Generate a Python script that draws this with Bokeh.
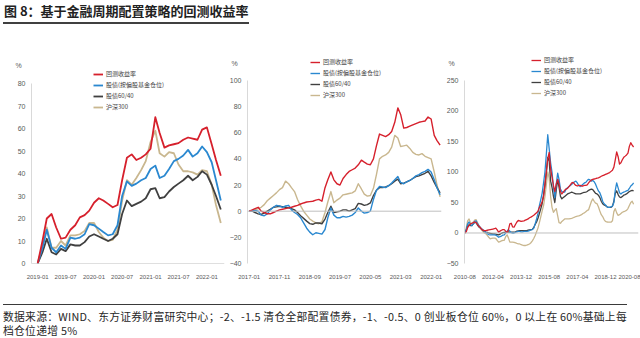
import pandas as pd
from bokeh.plotting import figure
from bokeh.models import (FixedTicker, DatetimeTickFormatter, Span, Legend, LegendItem,
                          LinearAxis, Div, Range1d)
from bokeh.layouts import column, row
from bokeh.embed import file_html
from bokeh.resources import INLINE

TITLE = "图 8：基于金融周期配置策略的回测收益率"
NOTE_1 = "数据来源：WIND、东方证券财富研究中心；-2、-1.5 清仓全部配置债券，-1、-0.5、0 创业板仓位 60%，0 以上在 60%基础上每"
NOTE_2 = "档仓位递增 5%"
SERIES_NAMES = ["回测收益率", "股债(按偏股基金仓位)", "股债60/40", "沪深300"]
COLORS = ["#d6202c", "#2a88d0", "#404040", "#c9b78f"]
UNIT = "%"

# ---------------- Panel 1 : monthly, 2019-01 .. 2022-04 ----------------
p1_start = "2019-01-01"
p1_red = [0, 10, 20, 22, 16, 11, 11.5, 15, 17, 20.5,
          21.5, 23.5, 27, 29, 28, 26.5, 25, 26, 37, 47,
          48.5, 46, 47, 48.5, 51, 65, 58, 51.5, 52.5, 53,
          53.5, 55, 56, 55.5, 55, 59.5, 60.5, 53, 46, 39]
p1_blue = [0, 7, 15, 7, 5, 8, 6.5, 11.5, 11, 11.5,
           13, 17.5, 17, 15.5, 14, 12.5, 13, 17, 30, 36.5,
           34.5, 35.5, 37, 38, 42, 43.5, 38, 39, 42, 45.5,
           46.5, 48, 50.5, 47.5, 49, 52, 49.5, 45, 37, 28]
p1_dark = [0, 5, 11, 5, 4, 6.5, 5.5, 8.5, 8, 8,
           9.5, 12, 13, 12, 11, 10, 11, 13, 22, 28,
           25.5, 26.5, 27.5, 29, 33, 33.5, 29, 29.5, 32, 34,
           35.5, 37, 39, 37, 38.5, 41, 39.5, 35, 30, 24]
p1_tan = [0, 8, 16, 7, 7, 10, 8, 12.5, 12.5, 13,
          14.5, 18, 18, 14, 11.5, 10, 10.5, 15, 28, 37,
          35, 38, 41.5, 45.5, 54, 59, 49, 47.5, 49.5, 49,
          44, 41, 41, 40.5, 39.5, 41.5, 41, 35, 26, 18]
p1_xticks = ["2019-01", "2019-07", "2020-01", "2020-07", "2021-01", "2021-07", "2022-01"]
p1_yticks = [0, 10, 20, 30, 40, 50, 60, 70, 80]
p1_unit_at = 88

# ---------------- Panel 2 : monthly, 2017-01 .. 2022-04 ----------------
p2_start = "2017-01-01"
p2_red = [0, 1, 2, 3, 0, -1, -2, -2, -1, 0,
          1, 1.5, 2, 2.5, 3, 3.8, 4.5, 5.5, 6.3, 7,
          7.3, 7.6, 8.5, 9, 7.6, 18, 24, 30, 24, 21,
          20, 25, 28, 30.4, 31.7, 33, 35.5, 39, 37.5, 36,
          35.5, 40, 50, 59, 58, 57, 58.5, 61, 68, 79,
          74, 63.5, 64, 65, 66, 67, 68, 68.5, 69, 72,
          70.5, 58, 54, 50.5]
p2_blue = [0, 0.5, 0.5, 0, -3, -3.5, -2, 1, 3, 4.5,
           4, 3, 4, 4.5, 1, -1, -2.5, -5, -9, -13,
           -16, -18, -16.5, -17, -17.5, -14, -5, 2.5, -3, -5,
           -5, -4, -4.5, -4, -3, -1, 2.5, 0, -1.5, -1,
           0, 9, 16, 19, 18.5, 18, 19.5, 21.5, 24, 26.5,
           22, 21, 22.5, 23.5, 25, 27, 28, 29.5, 30.5, 32,
           30, 24, 18, 12.5]
p2_dark = [0, 0, -1, -2, -2.5, -1.5, 0, 1.5, 3, 3.3,
           3.8, 3.5, 3, 2.5, 2, 1, -1, -3.5, -5.5, -7.6,
           -9.5, -10, -9, -9, -9.6, -6, -1, 3.8, -1, -0.5,
           0, 1, 1, 0, 1, 2, 6, 5.5, 4.5, 5,
           6.3, 12, 16, 18, 18, 18.5, 19.5, 21, 23, 24.5,
           21, 21.5, 22.5, 23.5, 25, 26.5, 27, 28, 29, 30.5,
           27, 22, 18, 14]
p2_tan = [0, 0.5, 1, 2, 3, 5, 8, 10, 12, 14,
          16.5, 18, 23, 21, 18, 15, 9, 4, 0, -3,
          -6, -7.6, -9, -9.6, -8, -1, 7, 15, 6.5, 8.5,
          10, 12.5, 13, 13.5, 14, 15.5, 21, 17, 13, 11.5,
          12, 17.5, 28, 40, 42, 43, 45, 49, 58, 56,
          49.5, 50, 50.5, 48, 45, 43.5, 43, 44, 42, 41,
          40, 30, 20, 11]
p2_xticks = ["2017-01", "2017-11", "2018-09", "2019-07", "2020-05", "2021-03", "2022-01"]
p2_yticks = [-40, -20, 0, 20, 40, 60, 80, 100]
p2_unit_at = 113

# ---------------- Panel 3 : monthly, 2010-08 .. 2020-08 ----------------
p3_start = "2010-08-01"
p3_red = [0, 2, 9, 12, 15, 16, 17, 18, 17.5, 14,
          11, 9, 6, 4.5, 4, 4, 4.5, 5, 5.5, 6,
          6.5, 7, 8, 5, 1.5, 3, 4.5, 5.5, 5.5, 3,
          1, 5, 15, 16, 10, 9.5, 14, 18, 20.5, 20,
          19, 19.5, 20, 21, 22, 23, 25, 26, 27.5, 29,
          31, 33, 36, 42, 46, 51, 60, 80, 100, 122,
          132, 105, 92, 78, 68, 80, 88, 80, 68, 64,
          67, 70, 72, 73, 76, 79, 82, 83, 80, 78,
          77, 78, 78, 77, 77, 78, 78, 79, 82, 85,
          87, 88, 88.5, 89, 90, 90.5, 91.5, 93, 94, 95,
          96, 97, 98, 99, 101, 103, 108, 120, 133, 125,
          113, 115, 120, 124, 126, 128, 131, 142, 148, 144, 141]
p3_blue = [0, 5, 15, 18, 14, 12, 15, 19, 20, 16,
           12, 9, 7, 5, 3, 1, -1, -2.5, -3, -3,
           -3, -3, -3.5, -5, -7, -6, -5, -3.5, -3, 0,
           3, 5.5, 3, 0.5, 0, 0, 1, 2, 2.5, 2.5,
           2, 2, 2.5, 2.5, 2.5, 3, 4, 5, 5.5, 8,
           15, 23, 32, 45, 55, 65, 82, 100, 130, 161,
           138, 115, 100, 75, 58, 80, 98, 88, 72, 68,
           67, 67, 72, 74, 76, 78, 80, 82, 84, 85,
           82, 78, 76, 78, 80, 82, 83, 86, 88, 87,
           85, 86, 84, 80, 74, 69, 66, 60, 52, 48,
           46, 43, 42, 42, 43, 44, 50, 70, 82, 74,
           66, 64, 66, 67, 68, 69, 70, 73, 77, 79, 82]
p3_dark = [0, 5, 12, 13.5, 12, 12, 15, 17, 17.5, 13,
           10, 8, 6, 4, 2.5, 1.5, 1, 0, -0.5, -1,
           -1.5, -1.5, -2, -2.5, -3, -2, -0.5, 0.5, 1, 1.5,
           1.5, 2, 1.5, 1.3, 1.2, 1.5, 2, 3, 3.5, 4,
           4, 4, 4, 4, 4, 4.5, 5, 5.5, 6, 9,
           14, 18, 24, 32, 40, 48, 62, 78, 100, 124,
           118, 85, 75, 60, 50, 70, 88, 75, 60, 56,
           58, 60, 62, 64, 65, 66, 67, 66, 65, 64,
           64, 64, 64, 65, 66, 66.5, 67, 68, 70, 71,
           72, 71, 68, 65, 64, 62, 58, 52, 48, 46,
           45, 43, 42, 42, 42, 44, 52, 65, 69, 63,
           59, 58, 60, 62, 63, 64, 66, 68, 69, 70, 69]
p3_tan = [0, 8, 20, 23, 17, 15, 18, 21, 22, 17,
          12, 9, 5, 2, 0, -1.3, -4, -7, -9.5, -9,
          -8.5, -8.5, -9, -12, -15, -14, -13, -12, -12, -6,
          -3, -8, -15, -15, -15, -15.5, -16, -17, -17.7, -18,
          -19, -20, -20.5, -20.5, -20, -19, -18, -16, -13, -9,
          -4, 2, 8, 17, 27, 36, 45, 60, 80, 100,
          90, 60, 42, 34, 37, 40, 28, 17, 16, 19,
          21, 23, 23, 23, 23, 23.5, 24, 25, 26, 27,
          27.5, 28, 29, 30, 32, 33, 35, 37, 38, 45,
          52, 56, 52, 49, 48, 43, 36, 30, 27, 22,
          19, 18, 17.7, 17.7, 17.7, 20, 35, 40, 33, 29,
          30, 32, 34, 35, 36, 37, 40, 45, 50, 52, 47]
p3_xticks = ["2010-08", "2012-04", "2013-12", "2015-08", "2017-04", "2018-12", "2020-08"]
p3_yticks = [-50, 0, 50, 100, 150, 200, 250]
p3_unit_at = 278


def ms(s):
    return pd.Timestamp(s).value / 1e6


def dates(start, n):
    return pd.date_range(start, periods=n, freq="MS")


FMT = "%Y-%m"
GRAY = "#595959"


def make_panel(width, frame_left, bottom, x0, x1, y0, y1, xticks, yticks, unit_at,
               series, start, legend_pos, lw):
    p = figure(width=width, height=260, x_axis_type="datetime",
               x_range=Range1d(ms(x0), ms(x1)), y_range=Range1d(y0, y1),
               output_backend="svg", toolbar_location=None,
               min_border_left=frame_left, min_border_right=2,
               min_border_top=26, min_border_bottom=bottom)
    p.outline_line_color = None
    p.grid.visible = False
    p.background_fill_color = "white"
    p.border_fill_color = "white"

    xa = p.xaxis[0]
    xa.ticker = FixedTicker(ticks=[ms(t + "-01") for t in xticks])
    xa.formatter = DatetimeTickFormatter(days=FMT, months=FMT, years=FMT)
    xa.axis_line_color = None
    xa.major_tick_line_color = None
    xa.minor_tick_line_color = None
    xa.major_label_text_font = "Liberation Sans"
    xa.major_label_text_font_size = "6px"
    xa.major_label_text_color = GRAY
    xa.major_label_standoff = 5

    # line-only axis, drawn between the lowest and highest tick
    yl = p.yaxis[0]
    yl.ticker = FixedTicker(ticks=[])
    yl.bounds = (min(yticks), max(yticks))
    yl.axis_line_color = "#d9d9d9"
    yl.major_tick_out = 0
    yl.minor_tick_out = 0
    yl.major_tick_line_color = None
    yl.minor_tick_line_color = None
    yl.major_label_standoff = 0

    # labelled axis, with the unit sign written at the top
    ya = LinearAxis(ticker=FixedTicker(ticks=yticks + [unit_at]),
                    major_label_overrides={unit_at: UNIT + "\u00a0\u00a0"})
    ya.axis_line_color = None
    ya.major_tick_out = 0
    ya.minor_tick_out = 0
    ya.major_tick_line_color = None
    ya.minor_tick_line_color = None
    ya.major_label_text_font = "Liberation Sans"
    ya.major_label_text_font_size = "7px"
    ya.major_label_text_color = GRAY
    ya.major_label_standoff = 6
    p.add_layout(ya, "left")

    p.add_layout(Span(location=0, dimension="width", line_color="#bfbfbf", line_width=1))

    rs = {}
    x = dates(start, len(series[0]))
    for idx in [3, 2, 1, 0]:
        rs[idx] = p.line(x, series[idx], line_color=COLORS[idx], line_width=lw,
                         line_join="round")
    items = [LegendItem(label=SERIES_NAMES[i], renderers=[rs[i]]) for i in range(4)]
    leg = Legend(items=items, location=legend_pos)
    leg.label_text_font = "Noto Sans CJK SC"
    leg.label_text_font_size = "6px"
    leg.label_text_color = "#404040"
    leg.glyph_width = 10
    leg.glyph_height = 8
    leg.label_height = 8
    leg.label_standoff = 3
    leg.spacing = 2
    leg.padding = 0
    leg.margin = 0
    leg.border_line_color = None
    leg.background_fill_alpha = 0
    p.add_layout(leg)
    return p


p1 = make_panel(226, 31, 25, "2018-11-22", "2022-04-25", 0, 92.0, p1_xticks, p1_yticks, p1_unit_at,
                [p1_red, p1_blue, p1_dark, p1_tan], p1_start, (62, 152), 1.8)
p2 = make_panel(217, 18, 27, "2016-12-15", "2022-04-15", -40, 118.3, p2_xticks, p2_yticks, p2_unit_at,
                [p2_red, p2_blue, p2_dark, p2_tan], p2_start, (63, 164), 1.4)
p3 = make_panel(197, 20, 27, "2010-07-25", "2020-11-15", -50, 289.3, p3_xticks, p3_yticks, p3_unit_at,
                [p3_red, p3_blue, p3_dark, p3_tan], p3_start, (67, 166), 1.3)

title_div = Div(
    text=('<div style="height:24px;padding-top:2px;margin:0 3px;border-bottom:2.5px solid #404040;">'
          '<span style="font-family:\'Noto Sans CJK SC\';font-weight:bold;font-size:13px;'
          'line-height:18px;color:#222;padding-left:1px;">' + TITLE + '</span></div>'),
    width=640, height=30, margin=0)

footer_div = Div(
    text=('<div style="margin:14px 3px 0 3px;border-top:1.5px solid #3a3a3a;padding-top:4px;'
          'font-family:\'Noto Sans CJK SC\';font-size:10.8px;line-height:14px;color:#262626;'
          'letter-spacing:0.25px;white-space:nowrap;">' + NOTE_1 + '<br>' + NOTE_2 + '</div>'),
    width=640, height=48, margin=0)

layout = column(title_div, row(p1, p2, p3, spacing=0), footer_div, spacing=0)

with open("out.html", "w") as f:
    f.write(file_html(layout, INLINE))
